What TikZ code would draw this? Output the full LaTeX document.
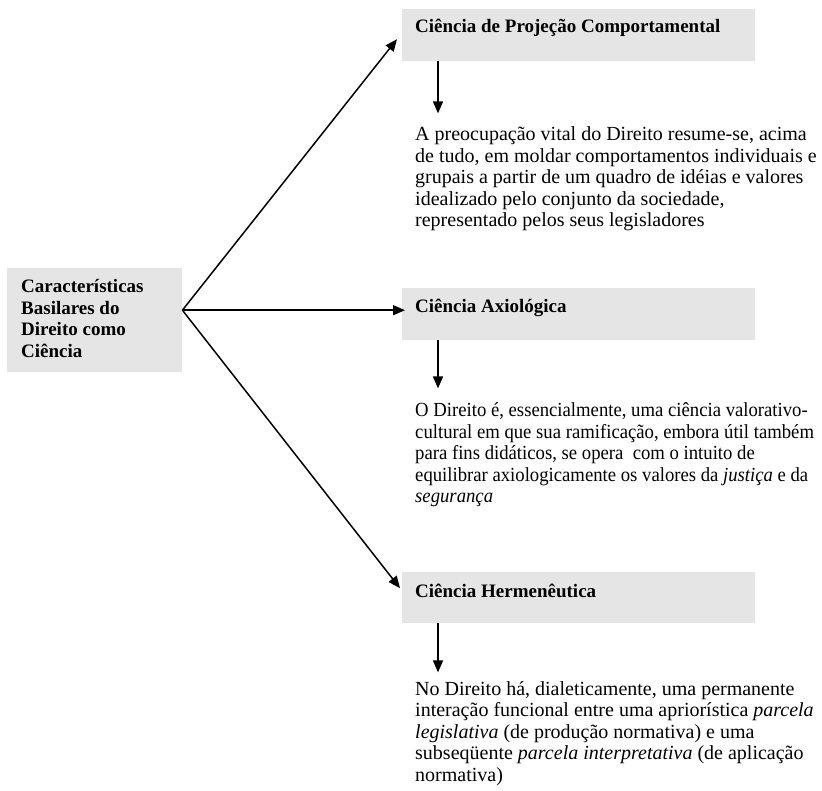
\documentclass[tikz,border=0pt]{standalone}
\usepackage{fontspec}
\setmainfont{Liberation Serif}
\usetikzlibrary{arrows.meta,calc}
\begin{document}
\begin{tikzpicture}[x=1pt,y=-1pt,
  panel/.style={fill=black!10, draw=none, inner sep=0pt, anchor=north west},
  head/.style={anchor=base west, inner sep=0pt, font=\fontsize{19}{21.5}\selectfont\bfseries},
  body/.style={anchor=base west, inner sep=0pt},
  conn/.style={line width=1.5pt, -{Triangle[length=12pt,width=10pt]}}]
\useasboundingbox (0,0) rectangle (822,791);

% shaded panels
\node[panel, minimum width=175pt, minimum height=104pt] (L) at (7,268) {};
\node[panel, minimum width=353pt, minimum height=52pt] (B1) at (402,9) {};
\node[panel, minimum width=353pt, minimum height=52pt] (B2) at (402,288) {};
\node[panel, minimum width=353pt, minimum height=51pt] (B3) at (402,572) {};

% panel titles
\node[head] (Lt) at (21,293) {\parbox[t]{160pt}{\raggedright Características\\Basilares do\\Direito como\\Ciência}};
\node[head] (T1) at (415,33) {Ciência de Projeção Comportamental};
\node[head] (T2) at (415,313) {Ciência Axiológica};
\node[head] (T3) at (415,597) {Ciência Hermenêutica};

% descriptions
\node[body] (D1) at (415,141) {\parbox[t]{520pt}{\fontsize{20}{21.5}\selectfont\raggedright
A preocupação vital do Direito resume-se, acima\\
de tudo, em moldar comportamentos individuais e\\
grupais a partir de um quadro de idéias e valores\\
idealizado pelo conjunto da sociedade,\\
representado pelos seus legisladores}};
\node[body] (D2) at (415,417) {\parbox[t]{520pt}{\fontsize{20}{21.5}\selectfont\addfontfeatures{FakeStretch=0.935}\raggedright
O Direito é, essencialmente, uma ciência valorativo-\\
cultural em que sua ramificação, embora útil também\\
para fins didáticos, se opera \ com o intuito de\\
equilibrar axiologicamente os valores da \textit{justiça} e da\\
\textit{segurança}}};
\node[body] (D3) at (415,695) {\parbox[t]{520pt}{\fontsize{20}{21.5}\selectfont\raggedright
No Direito há, dialeticamente, uma permanente\\
interação funcional entre uma apriorística \textit{parcela}\\
\textit{legislativa} (de produção normativa) e uma\\
subseqüente \textit{parcela interpretativa} (de aplicação\\
normativa)}};

% branches
\draw[conn] ($(L.east)+(0,-10)$) -- ($(B1.west)+(-5,4)$);
\draw[conn] ($(L.east)+(0,-10)$) -- ($(B2.west)+(3,-4)$);
\draw[conn] ($(L.east)+(0,-10)$) -- ($(B3.west)+(-2,-9.5)$);

% panel to description
\draw[conn] ($(B1.south west)+(36,0)$) -- +(0,52);
\draw[conn] ($(B2.south west)+(36,0)$) -- +(0,48);
\draw[conn] ($(B3.south west)+(36,0)$) -- +(0,49);
\end{tikzpicture}
\end{document}
